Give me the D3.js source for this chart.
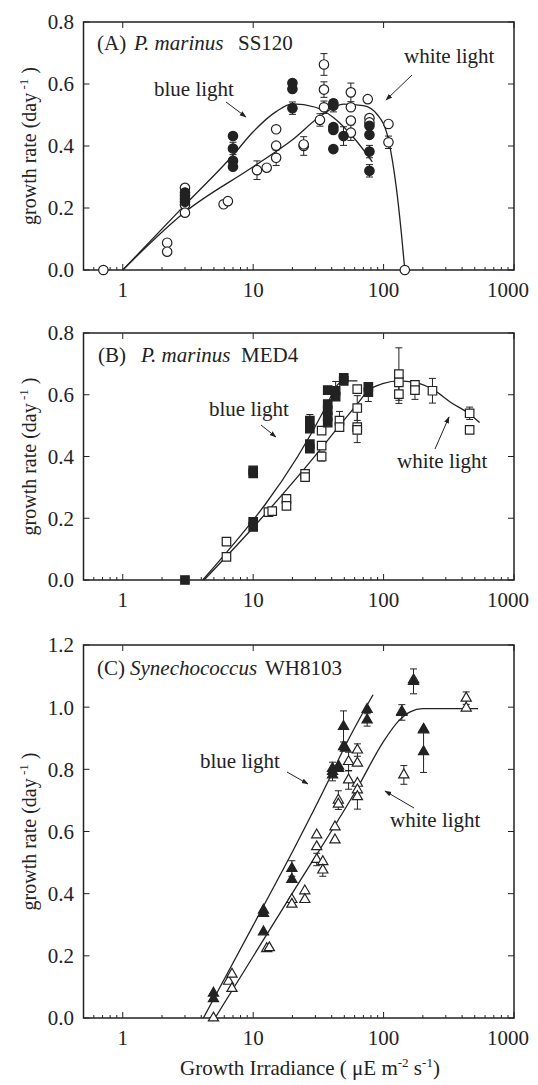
<!DOCTYPE html>
<html>
<head>
<meta charset="utf-8">
<script src="https://cdn.jsdelivr.net/npm/d3@7"></script>
<style>
  body { margin: 0; background: #fff; }
  text { font-family: "Liberation Serif", "Times New Roman", serif; fill: #222; }
</style>
</head>
<body>
<svg id="chart" width="538" height="1085"></svg>
<script>
// ---- (A) P. marinus SS120 : circles ----
var ss120Blue = [[3,0.25],[3,0.24],[3,0.23],[3,0.22],[7,0.432],[7,0.392],[7,0.352],[7,0.333],
  [20,0.603],[20,0.584],[20,0.522],[41.2,0.538],[41.2,0.53],[41.2,0.461],[41.2,0.452],[41.2,0.39],
  [49.3,0.432],[77.9,0.465],[77.9,0.436],[77.9,0.382],[77.9,0.32]];
var ss120White = [[0.71,0],[2.19,0.088],[2.19,0.059],[3,0.265],[3,0.21],[3,0.185],[5.93,0.212],[6.4,0.222],
  [10.7,0.322],[12.7,0.33],[15,0.454],[15,0.401],[15,0.362],[24.4,0.40],[24.4,0.405],[32.5,0.484],
  [34.9,0.663],[34.9,0.582],[34.9,0.525],[56.1,0.573],[56.1,0.525],[56.1,0.482],[56.1,0.443],
  [75.6,0.551],[77.9,0.49],[77.9,0.476],[109,0.471],[109,0.412],[145.5,0]];
var ss120BlueErr = [[7,0.392,0.02],[20,0.522,0.02],[41.2,0.53,0.02],[49.3,0.432,0.03],[77.9,0.382,0.02],[77.9,0.32,0.02]];
var ss120WhiteErr = [[10.7,0.322,0.03],[15,0.362,0.025],[24.4,0.40,0.03],[32.5,0.484,0.02],[34.9,0.663,0.035],
  [34.9,0.582,0.025],[34.9,0.525,0.02],[56.1,0.573,0.03],[56.1,0.443,0.025],[77.9,0.476,0.02],[109,0.412,0.02]];
var ss120BlueFit = [[1,0],[3,0.21],[7,0.37],[10,0.446],[15,0.511],[20,0.536],[30,0.525],[41,0.493],[59.5,0.425],[82,0.349]];
var ss120WhiteFit = [[1,0],[3,0.187],[10,0.333],[20,0.42],[32.5,0.495],[49.6,0.535],[70,0.53],[90,0.5],
  [109,0.42],[125,0.268],[137,0.117],[145.5,0]];

// ---- (B) P. marinus MED4 : squares ----
var med4Blue = [[3,0],[10,0.355],[10,0.345],[10,0.188],[10,0.172],[27.2,0.516],[27.2,0.49],[27.2,0.44],[27.2,0.425],
  [37.3,0.615],[37.3,0.57],[37.3,0.55],[37.3,0.53],[37.3,0.51],[42.9,0.613],[42.9,0.594],[49.5,0.645],[49.5,0.655],
  [76.4,0.626],[76.4,0.608]];
var med4White = [[6.24,0.124],[6.24,0.075],[13.1,0.22],[14,0.223],[18,0.263],[18,0.24],[25,0.344],[25,0.333],
  [33.5,0.484],[33.5,0.435],[33.5,0.40],[45.9,0.516],[45.9,0.495],[62.8,0.618],[62.8,0.557],[62.8,0.495],
  [62.8,0.486],[131,0.667],[131,0.64],[131,0.602],[174,0.632],[174,0.615],[237,0.613],[457,0.54],[457,0.486]];
var med4BlueErr = [[27.2,0.516,0.02],[42.9,0.613,0.03],[76.4,0.608,0.03]];
var med4WhiteErr = [[33.5,0.40,0.015],[45.9,0.516,0.03],[62.8,0.557,0.04],[62.8,0.495,0.05],[131,0.667,0.085],
  [131,0.602,0.03],[174,0.615,0.03],[237,0.613,0.04],[457,0.54,0.02]];
var med4BlueFit = [[4.1,0],[37,0.57],[43,0.625],[50,0.645],[63,0.645]];
var med4WhiteFit = [[4.2,0],[10,0.17],[33.5,0.428],[45.9,0.5],[62.8,0.57],[76,0.613],[100,0.637],[131,0.645],
  [174,0.64],[237,0.618],[328,0.575],[457,0.538],[545,0.51]];

// ---- (C) Synechococcus WH8103 : triangles ----
var wh8103Blue = [[4.96,0.08],[4.96,0.062],[12,0.347],[12,0.336],[12,0.277],[19.8,0.481],[19.8,0.446],
  [40.6,0.803],[40.6,0.793],[40.6,0.782],[45.2,0.803],[45.2,0.81],[49.3,0.938],[49.3,0.873],[51,0.868],
  [74.8,0.993],[74.8,0.959],[138,0.983],[169.6,1.083],[202.6,0.929],[202.6,0.857]];
var wh8103White = [[4.96,0],[6.48,0.118],[6.88,0.141],[6.88,0.095],[12.7,0.223],[13.3,0.226],[19.8,0.381],[19.8,0.366],
  [24.9,0.409],[24.9,0.381],[30.7,0.589],[30.7,0.551],[30.7,0.51],[34.2,0.503],[34.2,0.476],[42.4,0.573],[42.4,0.615],
  [45,0.701],[45,0.688],[53.9,0.825],[53.9,0.766],[63,0.862],[63,0.82],[63,0.755],[63,0.734],[63,0.712],
  [138,0.986],[143,0.782],[170,1.088],[202.6,0.927],[430,1.029],[430,0.997]];
var wh8103BlueErr = [[19.8,0.481,0.025],[40.6,0.793,0.03],[49.3,0.938,0.05],[74.8,0.959,0.02],[138,0.983,0.025],
  [169.6,1.083,0.04],[202.6,0.86,0.07]];
var wh8103WhiteErr = [[30.7,0.51,0.02],[34.2,0.476,0.02],[45,0.701,0.03],[53.9,0.825,0.03],[53.9,0.766,0.03],
  [63,0.862,0.02],[63,0.712,0.04],[143,0.782,0.03],[430,1.029,0.02]];
var wh8103BlueFit = [[4.15,0],[12,0.36],[20,0.535],[40,0.785],[50,0.87],[83,1.04]];
var wh8103WhiteFit = [[5.1,0],[20,0.402],[63,0.74],[100,0.89],[130,0.955],[160,0.985],[200,0.995],[530,0.995]];

var xTickLabels = [1, 10, 100, 1000];
var yTicksAB = [0, 0.2, 0.4, 0.6, 0.8];
var yTicksC = [0, 0.2, 0.4, 0.6, 0.8, 1.0, 1.2];

var ink = "#222";
var svg = d3.select("#chart");

svg.append("defs").append("marker")
    .attr("id", "head").attr("viewBox", "0 0 10 10")
    .attr("refX", 9).attr("refY", 5)
    .attr("markerWidth", 7).attr("markerHeight", 7)
    .attr("orient", "auto")
  .append("path").attr("d", "M0,1.5 L10,5 L0,8.5 z").attr("fill", ink);

var x = d3.scaleLog().domain([0.5, 1000]).range([83.5, 514]);

var panels = [
  { top: 22, bottom: 270, yMax: 0.8, yTicks: yTicksAB, shape: d3.symbolCircle, size: 70,
    blue: ss120Blue, white: ss120White, blueErr: ss120BlueErr, whiteErr: ss120WhiteErr,
    blueFit: ss120BlueFit, whiteFit: ss120WhiteFit,
    label: ["(A)", "P. marinus", "SS120"], labelX: [97, 134, 238], labelY: 50,
    blueTxt: [154, 96], blueArrow: [226, 102, 246, 117],
    whiteTxt: [404, 63], whiteArrow: [412, 75, 386, 100] },
  { top: 333, bottom: 580, yMax: 0.8, yTicks: yTicksAB, shape: d3.symbolSquare, size: 72,
    blue: med4Blue, white: med4White, blueErr: med4BlueErr, whiteErr: med4WhiteErr,
    blueFit: med4BlueFit, whiteFit: med4WhiteFit,
    label: ["(B)", "P. marinus", "MED4"], labelX: [98, 141, 241], labelY: 362,
    blueTxt: [209, 416], blueArrow: [261, 425, 276, 437],
    whiteTxt: [397, 468], whiteArrow: [435, 449, 449, 417] },
  { top: 645, bottom: 1018, yMax: 1.2, yTicks: yTicksC, shape: d3.symbolTriangle, size: 45,
    blue: wh8103Blue, white: wh8103White, blueErr: wh8103BlueErr, whiteErr: wh8103WhiteErr,
    blueFit: wh8103BlueFit, whiteFit: wh8103WhiteFit,
    label: ["(C)", "Synechococcus", "WH8103"], labelX: [97, 130, 265], labelY: 675,
    blueTxt: [200, 768], blueArrow: [287, 772, 308, 784],
    whiteTxt: [390, 827], whiteArrow: [414, 808, 385, 791] }
];

panels.forEach(function(p) {
    var y = d3.scaleLinear().domain([0, p.yMax]).range([p.bottom, p.top]);
    var g = svg.append("g");
    var x0 = x.range()[0], x1 = x.range()[1];

    // frame
    g.append("rect").attr("x", x0).attr("y", p.top)
        .attr("width", x1 - x0).attr("height", p.bottom - p.top)
        .attr("fill", "none").attr("stroke", ink).attr("stroke-width", 1.5);

    // x ticks (inward), minor on bottom
    var major = xTickLabels;
    var minor = [];
    [0.1, 1, 10, 100].forEach(function(d) {
        for (var k = 2; k <= 9; k++) { if (d * k >= 0.5 && d * k < 1000) minor.push(d * k); }
    });
    g.selectAll(".xmaj").data(major).enter().append("line")
        .attr("x1", d => x(d)).attr("x2", d => x(d))
        .attr("y1", p.bottom).attr("y2", p.bottom - 6)
        .attr("stroke", ink).attr("stroke-width", 1);
    g.selectAll(".xmajt").data(major).enter().append("line")
        .attr("x1", d => x(d)).attr("x2", d => x(d))
        .attr("y1", p.top).attr("y2", p.top + 6)
        .attr("stroke", ink).attr("stroke-width", 1);
    g.selectAll(".xmin").data(minor).enter().append("line")
        .attr("x1", d => x(d)).attr("x2", d => x(d))
        .attr("y1", p.bottom).attr("y2", p.bottom - 3)
        .attr("stroke", ink).attr("stroke-width", 1);
    g.selectAll(".xlab").data(major).enter().append("text")
        .attr("x", d => x(d)).attr("y", p.bottom + 27)
        .attr("dx", d => d === 1000 ? -6 : 0)
        .attr("text-anchor", "middle").attr("font-size", 21)
        .text(d => d);

    // y ticks
    g.selectAll(".yl").data(p.yTicks).enter().append("line")
        .attr("x1", x0).attr("x2", x0 + 6).attr("y1", d => y(d)).attr("y2", d => y(d))
        .attr("stroke", ink).attr("stroke-width", 1);
    g.selectAll(".yr").data(p.yTicks).enter().append("line")
        .attr("x1", x1).attr("x2", x1 - 6).attr("y1", d => y(d)).attr("y2", d => y(d))
        .attr("stroke", ink).attr("stroke-width", 1);
    g.selectAll(".ylab").data(p.yTicks).enter().append("text")
        .attr("x", 74).attr("y", d => y(d)).attr("dy", "0.35em")
        .attr("text-anchor", "end").attr("font-size", 21)
        .text(d => d3.format(".1f")(d));

    // y title
    var yt = g.append("text")
        .attr("transform", "translate(36," + ((p.top + p.bottom) / 2) + ") rotate(-90)")
        .attr("text-anchor", "middle").attr("font-size", 20);
    yt.append("tspan").text("growth rate (day");
    yt.append("tspan").attr("dy", -8).attr("font-size", 13).text(" -1");
    yt.append("tspan").attr("dy", 8).text(" )");

    // fitted curves
    var line = d3.line().x(d => x(d[0])).y(d => y(d[1])).curve(d3.curveMonotoneX);
    [p.blueFit, p.whiteFit].forEach(function(f) {
        g.append("path").attr("d", line(f)).attr("fill", "none")
            .attr("stroke", ink).attr("stroke-width", 1.3);
    });

    // error bars
    function errBars(data) {
        var e = g.append("g").attr("stroke", ink).attr("stroke-width", 1);
        data.forEach(function(d) {
            var cx = x(d[0]), ya = y(d[1] + d[2]), yb = y(d[1] - d[2]);
            e.append("line").attr("x1", cx).attr("x2", cx).attr("y1", ya).attr("y2", yb);
            e.append("line").attr("x1", cx - 3.5).attr("x2", cx + 3.5).attr("y1", ya).attr("y2", ya);
            e.append("line").attr("x1", cx - 3.5).attr("x2", cx + 3.5).attr("y1", yb).attr("y2", yb);
        });
    }
    errBars(p.whiteErr);
    errBars(p.blueErr);

    // markers
    var sym = d3.symbol().type(p.shape).size(p.size);
    g.selectAll(".w").data(p.white).enter().append("path")
        .attr("d", sym).attr("transform", d => "translate(" + x(d[0]) + "," + y(d[1]) + ")")
        .attr("fill", "#fff").attr("stroke", ink).attr("stroke-width", 1.2);
    g.selectAll(".b").data(p.blue).enter().append("path")
        .attr("d", sym).attr("transform", d => "translate(" + x(d[0]) + "," + y(d[1]) + ")")
        .attr("fill", ink).attr("stroke", ink).attr("stroke-width", 1.2);

    // panel label
    var lab = g.append("text").attr("y", p.labelY).attr("font-size", 21);
    lab.append("tspan").attr("x", p.labelX[0]).text(p.label[0]);
    lab.append("tspan").attr("x", p.labelX[1]).attr("font-style", "italic").text(p.label[1]);
    lab.append("tspan").attr("x", p.labelX[2]).text(p.label[2]);

    // annotations
    g.append("text").attr("x", p.blueTxt[0]).attr("y", p.blueTxt[1]).attr("font-size", 21).text("blue light");
    g.append("text").attr("x", p.whiteTxt[0]).attr("y", p.whiteTxt[1]).attr("font-size", 21).text("white light");
    [p.blueArrow, p.whiteArrow].forEach(function(a) {
        g.append("line").attr("x1", a[0]).attr("y1", a[1]).attr("x2", a[2]).attr("y2", a[3])
            .attr("stroke", ink).attr("stroke-width", 1).attr("marker-end", "url(#head)");
    });
});

// x title
var xt = svg.append("text").attr("x", 310).attr("y", 1075)
    .attr("text-anchor", "middle").attr("font-size", 21);
xt.append("tspan").text("Growth Irradiance ( \u03bcE m");
xt.append("tspan").attr("dy", -8).attr("font-size", 13).text("-2");
xt.append("tspan").attr("dy", 8).text(" s");
xt.append("tspan").attr("dy", -8).attr("font-size", 13).text("-1");
xt.append("tspan").attr("dy", 8).text(")");
</script>
</body>
</html>
